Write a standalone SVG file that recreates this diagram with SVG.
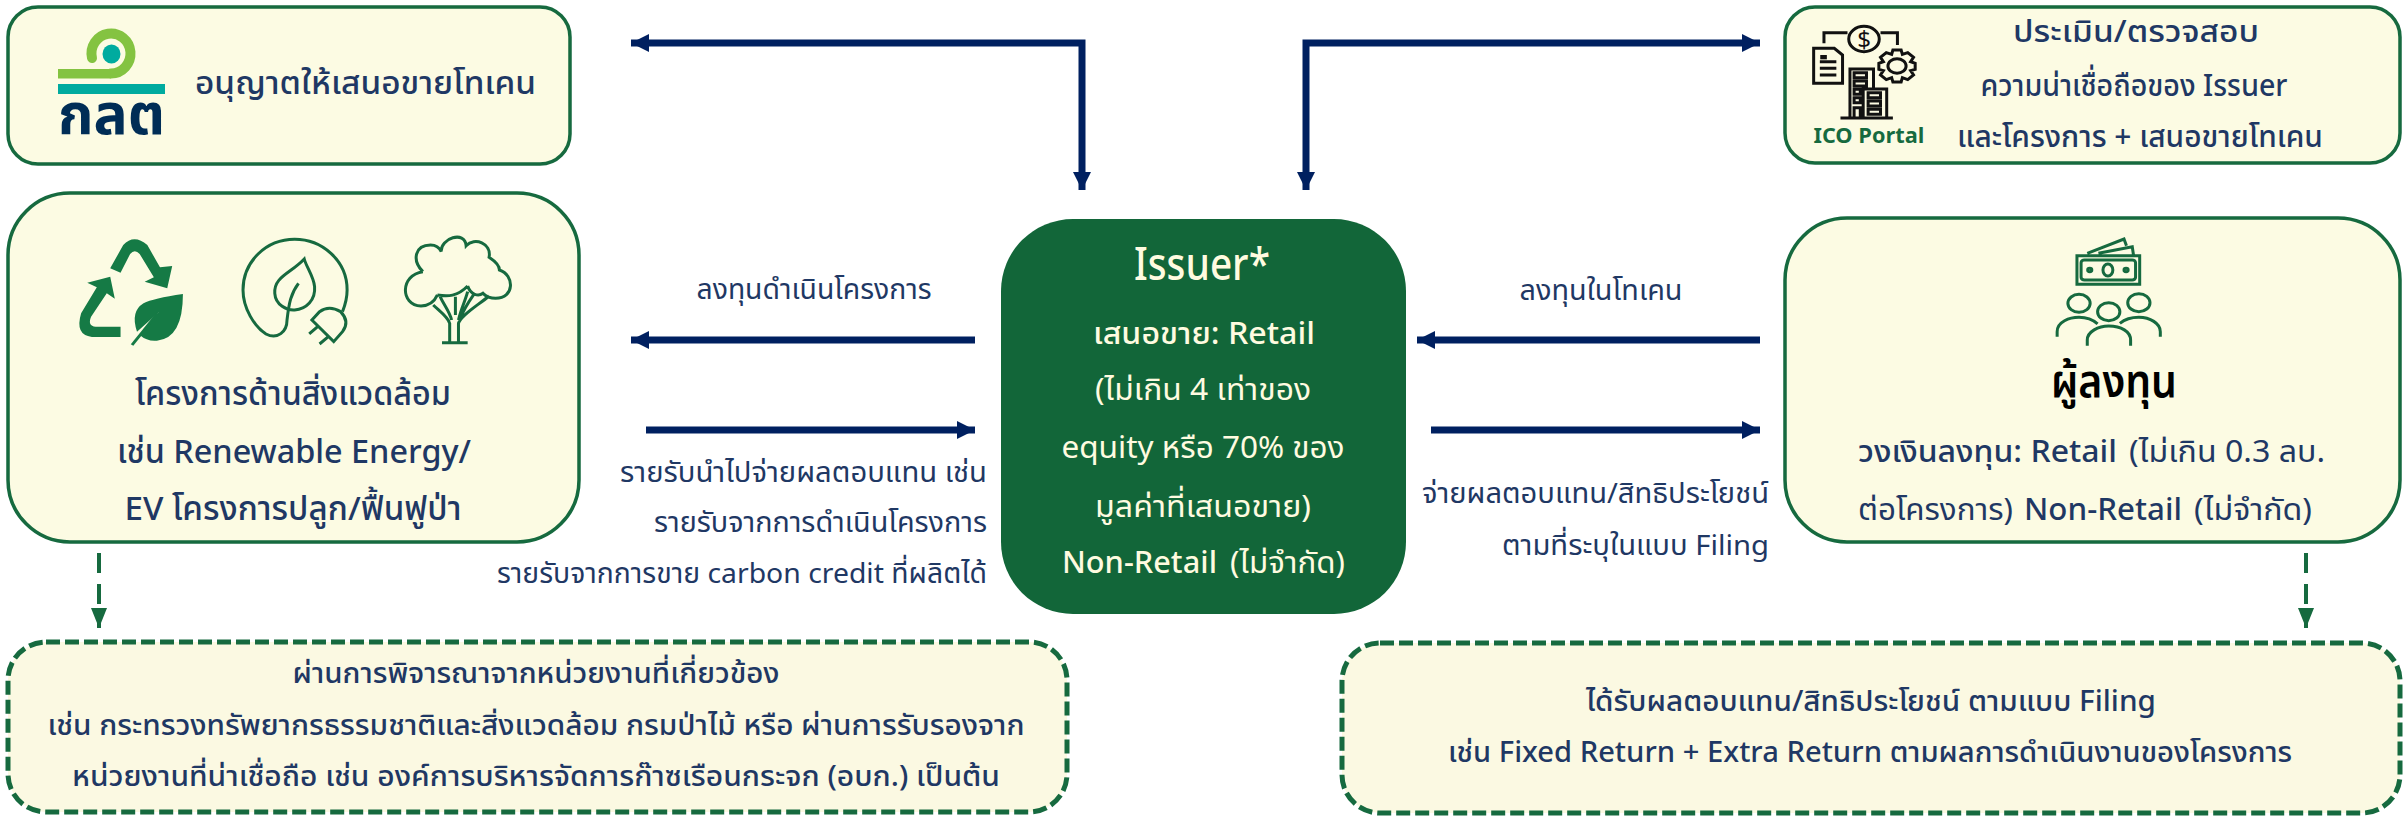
<svg xmlns="http://www.w3.org/2000/svg" width="2407" height="818" viewBox="0 0 2407 818">
<style>
text{font-family:"Noto Sans Thai","Noto Sans","Open Sans","DejaVu Sans",sans-serif;fill:#1f3864}
.box{fill:#fcfbe3;stroke:#166a3f;stroke-width:3.5}
.dash{fill:#fbf9e2;stroke:#166a3f;stroke-width:5;stroke-dasharray:14 5}
.ln{fill:none;stroke:#002060;stroke-width:7}
.dl{fill:none;stroke:#166a3f;stroke-width:4;stroke-dasharray:20 11}
.b{font-weight:500}
.r{font-weight:400}
.w{fill:#fffbe0}
.ic{fill:none;stroke:#166a3f;stroke-width:3;vector-effect:non-scaling-stroke}
.ik{fill:none;stroke:#111;stroke-width:3;vector-effect:non-scaling-stroke}
</style>
<defs>
<marker id="ah" markerUnits="userSpaceOnUse" markerWidth="20" markerHeight="20" refX="18" refY="9" orient="auto-start-reverse" overflow="visible"><path d="M0 0L18 9L0 18Z" fill="#002060"/></marker>
<marker id="ag" markerUnits="userSpaceOnUse" markerWidth="16" markerHeight="22" refX="20" refY="8" orient="auto" overflow="visible"><path d="M0 0L20 8L0 16Z" fill="#166a3f"/></marker>
</defs>
<g id="connectors">
<path class="ln" marker-start="url(#ah)" marker-end="url(#ah)" d="M631 43H1082V190"/>
<path class="ln" marker-start="url(#ah)" marker-end="url(#ah)" d="M1760 43H1306V190"/>
<path class="ln" marker-end="url(#ah)" d="M975 340H631"/>
<path class="ln" marker-end="url(#ah)" d="M646 430H975"/>
<path class="ln" marker-end="url(#ah)" d="M1760 340H1417"/>
<path class="ln" marker-end="url(#ah)" d="M1431 430H1760"/>
<path class="dl" marker-end="url(#ag)" d="M99 553V628"/>
<path class="dl" marker-end="url(#ag)" d="M2306 553V628"/>
<text x="814" y="299" font-size="28" text-anchor="middle" textLength="235" lengthAdjust="spacingAndGlyphs">ลงทุนดำเนินโครงการ</text>
<text x="1601" y="300" font-size="28" text-anchor="middle" textLength="163" lengthAdjust="spacingAndGlyphs">ลงทุนในโทเคน</text>
<text x="987" y="482" font-size="28" text-anchor="end" textLength="367" lengthAdjust="spacingAndGlyphs">รายรับนำไปจ่ายผลตอบแทน เช่น</text>
<text x="987" y="532" font-size="28" text-anchor="end" textLength="333" lengthAdjust="spacingAndGlyphs">รายรับจากการดำเนินโครงการ</text>
<text x="987" y="583" font-size="28" text-anchor="end" textLength="490" lengthAdjust="spacingAndGlyphs">รายรับจากการขาย carbon credit ที่ผลิตได้</text>
<text x="1769" y="503" font-size="28" text-anchor="end" textLength="347" lengthAdjust="spacingAndGlyphs">จ่ายผลตอบแทน/สิทธิประโยชน์</text>
<text x="1769" y="555" font-size="28" text-anchor="end" textLength="267" lengthAdjust="spacingAndGlyphs">ตามที่ระบุในแบบ Filing</text>
</g>
<g id="node-sec">
<rect class="box" x="8" y="7" width="562" height="157" rx="30"/>
<rect x="58" y="84" width="107" height="10" fill="#00ab9f"/>
<path d="M111 73.500A19.500 20 0 1 0 92 58" fill="none" stroke="#84c341" stroke-width="10" stroke-linecap="round"/>
<rect x="58" y="69" width="53" height="9.500" fill="#84c341"/>
<ellipse cx="111.500" cy="54" rx="9" ry="9.500" fill="#00ab9f"/>
<text x="111.500" y="134" font-size="56" font-weight="700" text-anchor="middle" style="fill:#002d56" textLength="107" lengthAdjust="spacingAndGlyphs">กลต</text>
<text x="195" y="94" font-size="32" class="b" textLength="341" lengthAdjust="spacingAndGlyphs">อนุญาตให้เสนอขายโทเคน</text>
</g>
<g id="node-project">
<rect class="box" x="8" y="193" width="571" height="349" rx="62"/>
<g transform="translate(0 180) scale(.3827 .3333)">
<path fill="#157a45" d="M288 265L322 195Q350 160 385 195L418 262L450 258L437 325L378 305L402 292L365 222Q352 205 340 222L315 278Z"/>
<path fill="#157a45" d="M228 308L288 290L300 356L279 340L238 410Q228 438 250 440L315 440V471H240Q195 465 212 400L253 322Z"/>
<path fill="#157a45" d="M478 342Q400 355 375 370Q340 395 358 455L415 397L365 465Q385 485 410 482Q478 475 478 342Z"/>
<path fill="none" stroke="#157a45" stroke-width="8" d="M412 400L345 495"/>
<path class="ic" d="M895 395Q907 360 907 330C907 240 840 178 770 178C695 178 635 245 635 330C635 385 665 440 695 462C725 480 750 455 750 420C755 370 760 340 780 310"/>
<path class="ic" d="M795 237C760 280 715 290 718 340C720 375 750 392 770 390C800 388 825 360 822 320C820 290 800 260 795 237Z"/>
<path class="ic" d="M815 420L835 395Q860 375 890 395Q915 425 895 455L872 485ZM808 462L830 440M835 492L858 470"/>
<path class="ic" d="M1105 275C1075 240 1085 195 1125 195Q1145 195 1153 215C1150 175 1215 150 1218 197C1240 170 1285 190 1278 232C1295 245 1305 260 1305 270C1345 285 1345 355 1295 355Q1275 355 1262 340C1250 350 1230 345 1222 318M1143 345Q1130 378 1100 378C1045 375 1045 285 1105 275M1155 488H1222M1175 488V430C1170 410 1150 395 1132 375M1198 488V430C1205 405 1250 375 1278 348M1143 345C1170 350 1195 350 1222 318M1150 350C1160 375 1175 395 1180 420M1190 350V405M1222 335C1215 365 1205 385 1198 420M1240 340C1225 365 1215 380 1205 410"/>
</g>
<text x="293" y="405" font-size="33" class="b" text-anchor="middle" textLength="316" lengthAdjust="spacingAndGlyphs">โครงการด้านสิ่งแวดล้อม</text>
<text x="294" y="463" font-size="33" class="b" text-anchor="middle" textLength="354" lengthAdjust="spacingAndGlyphs">เช่น Renewable Energy/</text>
<text x="293" y="520" font-size="33" class="b" text-anchor="middle" textLength="337" lengthAdjust="spacingAndGlyphs">EV โครงการปลูก/ฟื้นฟูป่า</text>
</g>
<g id="node-issuer">
<rect x="1001" y="219" width="405" height="395" rx="72" fill="#126639"/>
<text x="1202" y="280" font-size="46" class="w b" text-anchor="middle" textLength="136" lengthAdjust="spacingAndGlyphs">Issuer*</text>
<text x="1204" y="344" font-size="31" class="w b" text-anchor="middle" textLength="222" lengthAdjust="spacingAndGlyphs">เสนอขาย: Retail</text>
<text x="1203" y="400" font-size="31" class="w r" text-anchor="middle" textLength="216" lengthAdjust="spacingAndGlyphs">(ไม่เกิน 4 เท่าของ</text>
<text x="1203" y="458" font-size="31" class="w r" text-anchor="middle" textLength="283" lengthAdjust="spacingAndGlyphs">equity หรือ 70% ของ</text>
<text x="1203" y="517" font-size="31" class="w r" text-anchor="middle" textLength="216" lengthAdjust="spacingAndGlyphs">มูลค่าที่เสนอขาย)</text>
<text x="1062" y="573" font-size="31" class="w b" textLength="155" lengthAdjust="spacingAndGlyphs">Non-Retail</text>
<text x="1230" y="573" font-size="31" class="w r" textLength="115" lengthAdjust="spacingAndGlyphs">(ไม่จำกัด)</text>
</g>
<g id="node-ico">
<rect class="box" x="1785" y="7" width="615" height="156" rx="30"/>
<g transform="translate(1760 0) scale(.4127 .3333)">
<ellipse class="ik" cx="252" cy="117" rx="37" ry="38"/>
<path class="ik" d="M155 130V98H212M292 98H333V135M130 145H180L200 165V250H130ZM145 185H185M145 205H185M145 225H185M218 353V207H275V267M250 353V267H307V353M195 354H322M228 218h30v15h-30zM228 243h30v15h-30zM228 268h15v15h-15zM228 293h15v15h-15zM262 278h30v15h-30zM262 303h30v15h-30zM262 328h30v15h-30zM228 353v-30h15v30"/>
<rect x="146" y="165" width="16" height="13" fill="#111"/>
<circle class="ik" cx="332" cy="198" r="22"/>
<path class="ik" d="M322 150H342L345 163L358 158L372 172L365 185L376 190V208L365 212L372 225L358 239L345 233L342 246H322L319 233L306 239L292 225L299 212L288 208V190L299 185L292 172L306 158L319 163Z"/>
</g>
<text x="1864" y="48" font-size="24" font-weight="400" text-anchor="middle" style="fill:#111">$</text>
<text x="1869" y="143" font-size="22" font-weight="700" text-anchor="middle" style="fill:#166a3f" textLength="111" lengthAdjust="spacingAndGlyphs">ICO Portal</text>
<text x="2136" y="42" font-size="31" class="b" text-anchor="middle" textLength="246" lengthAdjust="spacingAndGlyphs">ประเมิน/ตรวจสอบ</text>
<text x="2134" y="96" font-size="31" class="b" text-anchor="middle" textLength="307" lengthAdjust="spacingAndGlyphs">ความน่าเชื่อถือของ Issuer</text>
<text x="2140" y="147" font-size="31" class="b" text-anchor="middle" textLength="366" lengthAdjust="spacingAndGlyphs">และโครงการ + เสนอขายโทเคน</text>
</g>
<g id="node-investor">
<rect class="box" x="1785" y="218" width="615" height="324" rx="62"/>
<g transform="translate(1760 200) scale(.4127 .3333)">
<path class="ic" d="M768 167H920V253H768ZM793 160L882 117L888 137M820 160L902 140L905 165"/>
<rect class="ic" x="778" y="180" width="132" height="60" rx="8"/>
<ellipse class="ic" cx="843" cy="210" rx="12" ry="18"/>
<circle class="ic" cx="799" cy="210" r="5"/>
<circle class="ic" cx="887" cy="210" r="5"/>
<circle class="ic" cx="773" cy="310" r="27"/>
<circle class="ic" cx="845" cy="335" r="27"/>
<circle class="ic" cx="918" cy="308" r="27"/>
<path class="ic" d="M720 410V395C720 365 750 352 773 352Q800 352 818 372M872 370Q890 352 918 352C945 352 970 370 970 395V410M793 437V420C793 395 820 378 845 378C875 378 898 395 898 420V437"/>
</g>
<text x="2114" y="397" font-size="46" font-weight="600" text-anchor="middle" style="fill:#000" textLength="126" lengthAdjust="spacingAndGlyphs">ผู้ลงทุน</text>
<text x="1858" y="462" font-size="30" class="b" textLength="259" lengthAdjust="spacingAndGlyphs">วงเงินลงทุน: Retail</text>
<text x="2129" y="462" font-size="30" class="r" textLength="196" lengthAdjust="spacingAndGlyphs">(ไม่เกิน 0.3 ลบ.</text>
<text x="1858" y="520" font-size="30" class="r" textLength="155" lengthAdjust="spacingAndGlyphs">ต่อโครงการ)</text>
<text x="2024" y="520" font-size="30" class="b" textLength="158" lengthAdjust="spacingAndGlyphs">Non-Retail</text>
<text x="2194" y="520" font-size="30" class="r" textLength="118" lengthAdjust="spacingAndGlyphs">(ไม่จำกัด)</text>
</g>
<g id="node-approval">
<rect class="dash" x="8" y="642" width="1059" height="170" rx="38"/>
<text x="536" y="683" font-size="28" class="b" text-anchor="middle" textLength="487" lengthAdjust="spacingAndGlyphs">ผ่านการพิจารณาจากหน่วยงานที่เกี่ยวข้อง</text>
<text x="536" y="735" font-size="28" class="b" text-anchor="middle" textLength="977" lengthAdjust="spacingAndGlyphs">เช่น กระทรวงทรัพยากรธรรมชาติและสิ่งแวดล้อม กรมป่าไม้ หรือ ผ่านการรับรองจาก</text>
<text x="536" y="786" font-size="28" class="b" text-anchor="middle" textLength="928" lengthAdjust="spacingAndGlyphs">หน่วยงานที่น่าเชื่อถือ เช่น องค์การบริหารจัดการก๊าซเรือนกระจก (อบก.) เป็นต้น</text>
</g>
<g id="node-return">
<rect class="dash" x="1342" y="643" width="1058" height="170" rx="38"/>
<text x="1871" y="711" font-size="28" class="b" text-anchor="middle" textLength="570" lengthAdjust="spacingAndGlyphs">ได้รับผลตอบแทน/สิทธิประโยชน์ ตามแบบ Filing</text>
<text x="1870" y="762" font-size="28" class="b" text-anchor="middle" textLength="844" lengthAdjust="spacingAndGlyphs">เช่น Fixed Return + Extra Return ตามผลการดำเนินงานของโครงการ</text>
</g>
</svg>
